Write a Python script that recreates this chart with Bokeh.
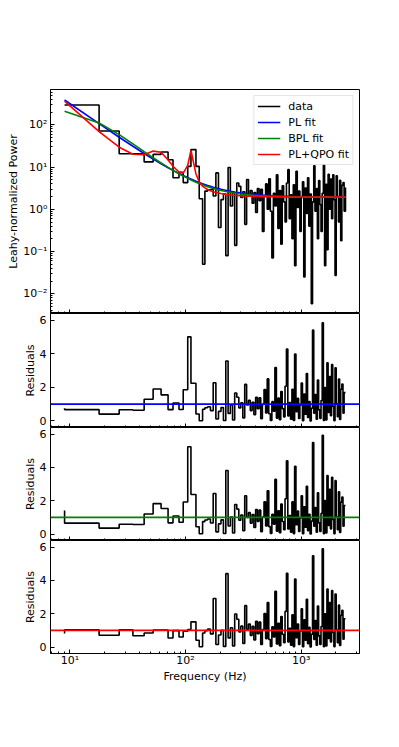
import numpy as np
from bokeh.plotting import figure
from bokeh.models import (Range1d, FixedTicker, CustomJSTickFormatter, Span,
                          Legend, LegendItem)
from bokeh.layouts import column
from bokeh.embed import file_html
from bokeh.resources import INLINE

FONT = "DejaVu Sans"

# ---- data: Leahy-normalized power spectrum (frequency in Hz) ----
freq = [9.0, 17.9, 26.7, 35.1, 43.9, 52.5, 61.5, 70.7, 78.0, 87.9,
        95.6, 104.6, 111.5, 123.2, 131.5, 140.6, 147.2, 155.3, 164.4, 173.7,
        183.2, 192.9, 202.8, 212.9, 223.2, 233.7, 244.4, 255.3, 266.4, 277.7,
        289.3, 301.1, 313.1, 325.4, 337.9, 350.7, 363.7, 377.0, 390.5, 404.3,
        418.4, 432.8, 447.5, 462.5, 477.8, 493.4, 509.3, 525.5, 542.0, 558.8,
        576.0, 593.5, 611.4, 629.6, 648.2, 667.2, 686.5, 706.2, 726.3, 746.8,
        767.7, 789.1, 810.9, 833.1, 855.8, 878.9, 902.5, 926.6, 951.1, 976.1,
        1001.6, 1027.6, 1054.2, 1081.3, 1108.9, 1137.1, 1165.8, 1195.1, 1225.0, 1255.5,
        1286.6, 1318.3, 1350.7, 1383.7, 1417.4, 1451.7, 1486.7, 1522.4, 1558.8, 1596.0,
        1633.9, 1672.6, 1712.1, 1752.3, 1793.3, 1835.2, 1877.9, 1921.5, 1965.9, 2011.2,
        2057.4, 2104.5, 2152.6, 2201.7, 2251.7, 2302.7, 2354.8, 2421.0]

power = [296.0, 72.0, 20.8, 20.8, 13.3, 20.0, 22.8, 15.0, 5.6, 7.5,
         4.3, 10.4, 26.0, 10.4, 1.78, 0.05, 2.7, 2.9, 2.95, 2.06,
         7.3, 0.37, 1.7, 2.3, 0.08, 9.8, 1.2, 2.5, 0.14, 4.2,
         3.5, 1.9, 2.6, 0.44, 5.1, 2.2, 2.8, 1.4, 2.5, 0.84,
         3.1, 1.6, 3.0, 0.3, 2.1, 4.0, 1.0, 5.3, 0.9, 0.07,
         2.4, 1.2, 6.6, 0.35, 2.8, 0.15, 3.6, 1.5, 0.5, 4.2,
         8.7, 0.6, 2.2, 0.2, 3.8, 0.046, 8.0, 1.1, 2.7, 0.3,
         1.9, 4.5, 0.025, 3.2, 0.8, 5.6, 0.4, 2.3, 0.0058, 1.5,
         10.7, 0.9, 3.1, 0.2, 4.8, 1.3, 0.3, 2.4, 11.5, 0.046,
         3.9, 0.11, 6.8, 1.0, 5.2, 0.6, 6.6, 1.7, 0.027, 6.2,
         2.0, 0.5, 4.9, 0.18, 3.7, 4.3, 0.9, 3.3]

# ---- fitted model parameters ----
PL_NORM, PL_INDEX, PL_CONST = 25200.0, 1.9, 1.95
BPL_NORM, BPL_BREAK, BPL_INDEX1, BPL_INDEX2, BPL_SMOOTH, BPL_CONST = 140.0, 18.0, 0.6, 2.1, 4.0, 1.93
QPL_NORM, QPL_INDEX, QPL_CONST = 88000.0, 2.5, 1.95
LOR_NORM, LOR_FREQ, LOR_HWHM = 19.0, 57.0, 15.0
QPO_NORM, QPO_FREQ, QPO_HWHM = 21.0, 112.0, 5.0

series_names = ["data", "PL fit", "BPL fit", "PL+QPO fit"]
series_colors = ["black", "#0000ff", "#008000", "#ff0000"]

y_ticks_main = [0.01, 0.1, 1, 10, 100]
x_ticks_main = [10, 100, 1000]
res_ticks = [0, 2, 4, 6]


def pl_model(f):
    return PL_NORM * f ** (-PL_INDEX) + PL_CONST


def bpl_model(f):
    x = f / BPL_BREAK
    return (BPL_NORM * x ** (-BPL_INDEX1)
            * (1 + x ** BPL_SMOOTH) ** (-(BPL_INDEX2 - BPL_INDEX1) / BPL_SMOOTH) + BPL_CONST)


def lorentz(f, n, f0, hw):
    return n / (1 + ((f - f0) / hw) ** 2)


def plqpo_model(f):
    return (QPL_NORM * f ** (-QPL_INDEX) + lorentz(f, LOR_NORM, LOR_FREQ, LOR_HWHM)
            + lorentz(f, QPO_NORM, QPO_FREQ, QPO_HWHM) + QPL_CONST)


f = np.array(freq)
pw = np.array(power)
models = [pl_model(f), bpl_model(f), plqpo_model(f)]
residuals = [pw / m for m in models]

sup_fmt = CustomJSTickFormatter(code="""
const s = {"-":"\u207b","0":"\u2070","1":"\u00b9","2":"\u00b2","3":"\u00b3","4":"\u2074",
           "5":"\u2075","6":"\u2076","7":"\u2077","8":"\u2078","9":"\u2079"};
const e = Math.round(Math.log10(tick));
return "10" + String(e).split("").map(c => s[c]).join("");
""")
blank_fmt = CustomJSTickFormatter(code="return '';")

x_minor = [m * 10 ** e for e in range(0, 4) for m in range(2, 10)]
y_minor = [m * 10 ** e for e in range(-3, 3) for m in range(2, 10)]

xr = Range1d(6.8, 3200)


def style_label(ax, text, standoff):
    ax.axis_label = text
    ax.axis_label_text_font = FONT
    ax.axis_label_text_font_size = "11px"
    ax.axis_label_text_font_style = "normal"
    ax.axis_label_text_color = "black"
    ax.axis_label_standoff = standoff


def make_fig(frame_h, y_type, y_range, top, bottom, show_x):
    p = figure(frame_width=309, frame_height=frame_h, x_axis_type="log",
               y_axis_type=y_type, x_range=xr, y_range=y_range,
               output_backend="svg", toolbar_location=None,
               min_border_left=50, min_border_right=12,
               min_border_top=top, min_border_bottom=bottom)
    p.grid.visible = False
    p.outline_line_color = "black"
    p.outline_line_alpha = 1.0
    p.outline_line_width = 1
    for ax in list(p.xaxis) + list(p.yaxis):
        ax.major_tick_in = 4
        ax.major_tick_out = 0
        ax.minor_tick_in = 2
        ax.minor_tick_out = 0
        ax.axis_line_color = "black"
        ax.major_tick_line_color = "black"
        ax.minor_tick_line_color = "black"
        ax.major_label_text_color = "black"
        ax.major_label_text_font = FONT
        ax.major_label_text_font_size = "11px"
    xa = p.xaxis[0]
    xa.ticker = FixedTicker(ticks=x_ticks_main, minor_ticks=x_minor)
    if show_x:
        xa.formatter = sup_fmt
        xa.major_label_standoff = 0
        style_label(xa, "Frequency (Hz)", 0)
    else:
        xa.formatter = blank_fmt
        xa.major_label_standoff = 0
    return p


# ---- top panel ----
p1 = make_fig(224, "log", Range1d(0.0034, 690), 89, 0, False)
ya = p1.yaxis[0]
ya.ticker = FixedTicker(ticks=y_ticks_main, minor_ticks=y_minor)
ya.formatter = sup_fmt
ya.major_label_standoff = 3
style_label(ya, "Leahy-normalized Power", 0)

renderers = []
r = p1.step(freq, power, mode="after", line_color=series_colors[0], line_width=1.6)
renderers.append(r)
for m, c in zip(models, series_colors[1:]):
    renderers.append(p1.line(freq, m, line_color=c, line_width=1.6))

legend = Legend(items=[LegendItem(label=n, renderers=[rr]) for n, rr in zip(series_names, renderers)],
                location="top_right")
legend.label_text_font = FONT
legend.label_text_font_size = "11px"
legend.label_text_color = "black"
legend.glyph_width = 23
legend.glyph_height = 14
legend.label_height = 14
legend.label_standoff = 8
legend.spacing = 2
legend.padding = 3
legend.margin = 6
legend.border_line_color = "#cccccc"
legend.border_line_width = 1
legend.background_fill_alpha = 0.8
p1.add_layout(legend)

# ---- residual panels ----
figs = [p1]
heights = [114, 113, 113]
for i, (res, c) in enumerate(zip(residuals, series_colors[1:])):
    last = (i == 2)
    p = make_fig(heights[i], "linear", Range1d(-0.39, 6.39), 0, 40 if last else 0, last)
    ya = p.yaxis[0]
    ya.ticker = FixedTicker(ticks=res_ticks)
    ya.minor_tick_in = 0
    ya.major_label_standoff = 4
    style_label(ya, "Residuals", 0)
    p.step(freq, res, mode="before", line_color="black", line_width=1.6)
    p.add_layout(Span(location=1, dimension="width", line_color=c, line_width=1.6))
    figs.append(p)

layout = column(*figs, spacing=0)
open("out.html", "w").write(file_html(layout, INLINE))
